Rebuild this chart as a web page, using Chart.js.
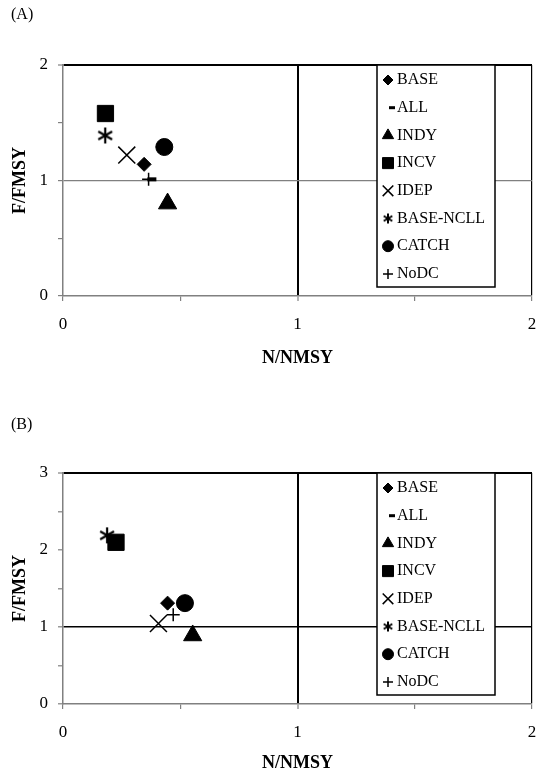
<!DOCTYPE html>
<html>
<head>
<meta charset="utf-8">
<title>F/FMSY vs N/NMSY</title>
<script src="https://cdn.jsdelivr.net/npm/chart.js@4.4.1/dist/chart.umd.min.js"></script>
<style>
  body { margin: 0; background: #fff; }
  .panel { position: absolute; left: 0; width: 542px; }
  #panelA { top: 0; height: 380px; }
  #panelB { top: 380px; height: 396px; }
</style>
</head>
<body>
<div class="panel" id="panelA"><canvas id="chartA" width="542" height="380"></canvas></div>
<div class="panel" id="panelB"><canvas id="chartB" width="542" height="396"></canvas></div>
<script>
// model runs, same order in both panels
const runNames = ['BASE', 'ALL', 'INDY', 'INCV', 'IDEP', 'BASE-NCLL', 'CATCH', 'NoDC'];

// panel (A)
const nA = [0.346, 0.379, 0.446, 0.181, 0.272, 0.180, 0.432, 0.365];
const fA = [1.14, 1.01, 0.80, 1.58, 1.22, 1.39, 1.29, 1.01];

// panel (B)
const nB = [0.446, 0.446, 0.553, 0.226, 0.407, 0.188, 0.520, 0.470];
const fB = [1.31, 1.31, 0.89, 2.10, 1.045, 2.19, 1.31, 1.16];

const xMax = 2;
const yMaxA = 2;
const yMaxB = 3;

const SERIF = 'Liberation Serif';

// excel style asterisk (vertical bar + two slanted bars)
function makeAsterisk(size, lw) {
    const c = document.createElement('canvas');
    c.width = size;
    c.height = size;
    const g = c.getContext('2d');
    const m = size / 2, r = size / 2 - 1;
    g.strokeStyle = '#000';
    g.lineWidth = lw;
    g.beginPath();
    [90, 30, 150].forEach(function (a) {
        const rad = a * Math.PI / 180;
        g.moveTo(m - r * Math.cos(rad), m - r * Math.sin(rad));
        g.lineTo(m + r * Math.cos(rad), m + r * Math.sin(rad));
    });
    g.stroke();
    return c;
}

const asteriskBig = makeAsterisk(18, 2.2);
const asteriskSmall = makeAsterisk(12, 2);

const markers = [
    { pointStyle: 'rectRot', pointRadius: 7, pointBorderWidth: 1, legendRadius: 5 },
    { pointStyle: 'line', pointRadius: 4.5, pointBorderWidth: 4, legendRadius: 3, legendWidth: 3, legendShift: 4 },
    { pointStyle: 'triangle', pointRadius: 10.5, pointBorderWidth: 1, legendRadius: 6.5 },
    { pointStyle: 'rect', pointRadius: 11.5, pointBorderWidth: 1, legendRadius: 7.8 },
    { pointStyle: 'crossRot', pointRadius: 12, pointBorderWidth: 1.5, legendRadius: 7.5 },
    { pointStyle: asteriskBig, legendStyle: asteriskSmall, pointRadius: 8, pointBorderWidth: 1.5, legendRadius: 6 },
    { pointStyle: 'circle', pointRadius: 8.5, pointBorderWidth: 1, legendRadius: 5.5 },
    { pointStyle: 'cross', pointRadius: 6.5, pointBorderWidth: 1.5, legendRadius: 5 }
];

function makeDatasets(nVals, fVals) {
    return runNames.map(function (name, i) {
        return Object.assign({
            label: name,
            data: [{ x: nVals[i], y: fVals[i] }],
            showLine: false,
            pointBackgroundColor: '#000',
            pointBorderColor: '#000'
        }, markers[i]);
    });
}

// legend box drawn inside the plot area
const legendBox = {
    id: 'legendBox',
    afterDraw(chart, args, opts) {
        const ctx = chart.ctx;
        const left = chart.chartArea.left + opts.offsetX;
        const top = chart.chartArea.top + opts.offsetY;
        ctx.save();
        ctx.fillStyle = '#fff';
        ctx.fillRect(left, top, opts.width, opts.height);
        ctx.strokeStyle = '#000';
        ctx.lineWidth = 1.5;
        ctx.strokeRect(left, top, opts.width, opts.height);
        ctx.font = '16px "' + SERIF + '"';
        ctx.textBaseline = 'middle';
        chart.data.datasets.forEach(function (ds, i) {
            const y = top + opts.firstRow + i * opts.rowGap;
            const w = ds.legendWidth || ds.pointBorderWidth;
            ctx.fillStyle = '#000';
            ctx.strokeStyle = '#000';
            ctx.lineWidth = w;
            Chart.helpers.drawPoint(ctx, {
                pointStyle: ds.legendStyle || ds.pointStyle,
                radius: ds.legendRadius,
                borderWidth: w,
                rotation: 0
            }, left + opts.markerX + (ds.legendShift || 0), y);
            ctx.fillText(ds.label, left + opts.textX, y);
        });
        ctx.restore();
    }
};

function makeChart(canvasId, cfg) {
    return new Chart(document.getElementById(canvasId), {
        type: 'scatter',
        data: { datasets: makeDatasets(cfg.n, cfg.f) },
        plugins: [legendBox],
        options: {
            responsive: false,
            animation: false,
            devicePixelRatio: 1,
            events: [],
            layout: {
                autoPadding: false,
                padding: { left: 11, right: 10, top: 0, bottom: 0 }
            },
            plugins: {
                legend: { display: false },
                tooltip: { enabled: false },
                title: {
                    display: true,
                    text: cfg.label,
                    align: 'start',
                    color: '#000',
                    font: { family: SERIF, size: 16, weight: 'normal' },
                    padding: { top: cfg.titleTop, bottom: cfg.titleBottom }
                },
                legendBox: {
                    offsetX: 314, offsetY: 0, width: 118, height: 222,
                    firstRow: 15, rowGap: 27.7, markerX: 11, textX: 20
                }
            },
            scales: {
                x: {
                    type: 'linear',
                    min: 0,
                    max: xMax,
                    afterFit: function (s) {
                        s.height = cfg.xAxisHeight;
                        // end labels fit inside the layout padding
                        s.paddingLeft = 0;
                        s.paddingRight = 0;
                    },
                    border: { color: '#808080', width: 1.5 },
                    grid: {
                        color: function (c) {
                            return (c.tick.value === 1 || c.tick.value === xMax) ? '#000' : 'rgba(0,0,0,0)';
                        },
                        lineWidth: function (c) { return c.tick.value === 1 ? 2 : 1.2; },
                        tickColor: '#808080',
                        tickWidth: 1.2,
                        tickLength: 5
                    },
                    ticks: {
                        stepSize: 0.5,
                        autoSkip: false,
                        maxRotation: 0,
                        padding: 13,
                        color: '#000',
                        font: { family: SERIF, size: 17 },
                        callback: function (v) { return Number.isInteger(v) ? String(v) : ''; }
                    },
                    title: {
                        display: true,
                        text: 'N/NMSY',
                        color: '#000',
                        font: { family: SERIF, size: 18, weight: 'bold' },
                        padding: { top: 0, bottom: cfg.xTitleBottom }
                    }
                },
                y: {
                    type: 'linear',
                    min: 0,
                    max: cfg.yMax,
                    afterFit: function (s) { s.width = 52; },
                    border: { color: '#808080', width: 1.5 },
                    grid: {
                        color: function (c) {
                            if (c.tick.value === 1) return cfg.hLineColor;
                            if (c.tick.value === cfg.yMax) return '#000';
                            return 'rgba(0,0,0,0)';
                        },
                        lineWidth: function (c) {
                            if (c.tick.value === cfg.yMax) return 2;
                            return cfg.hLineWidth;
                        },
                        tickColor: '#808080',
                        tickWidth: 1.2,
                        tickLength: 5
                    },
                    ticks: {
                        stepSize: 0.5,
                        autoSkip: false,
                        padding: 10,
                        color: '#000',
                        font: { family: SERIF, size: 17 },
                        callback: function (v) { return Number.isInteger(v) ? String(v) : ''; }
                    },
                    title: {
                        display: true,
                        text: 'F/FMSY',
                        color: '#000',
                        font: { family: SERIF, size: 18, weight: 'bold', lineHeight: 1 },
                        padding: { top: 0, bottom: 0 }
                    }
                }
            }
        }
    });
}

makeChart('chartA', {
    label: '(A)', n: nA, f: fA, yMax: yMaxA,
    titleTop: 5.5, titleBottom: 40.3, xAxisHeight: 84, xTitleBottom: 11,
    hLineColor: '#808080', hLineWidth: 1.2
});

makeChart('chartB', {
    label: '(B)', n: nB, f: fB, yMax: yMaxB,
    titleTop: 35.4, titleBottom: 38.4, xAxisHeight: 72, xTitleBottom: 2,
    hLineColor: '#000', hLineWidth: 1.6
});
</script>
</body>
</html>
